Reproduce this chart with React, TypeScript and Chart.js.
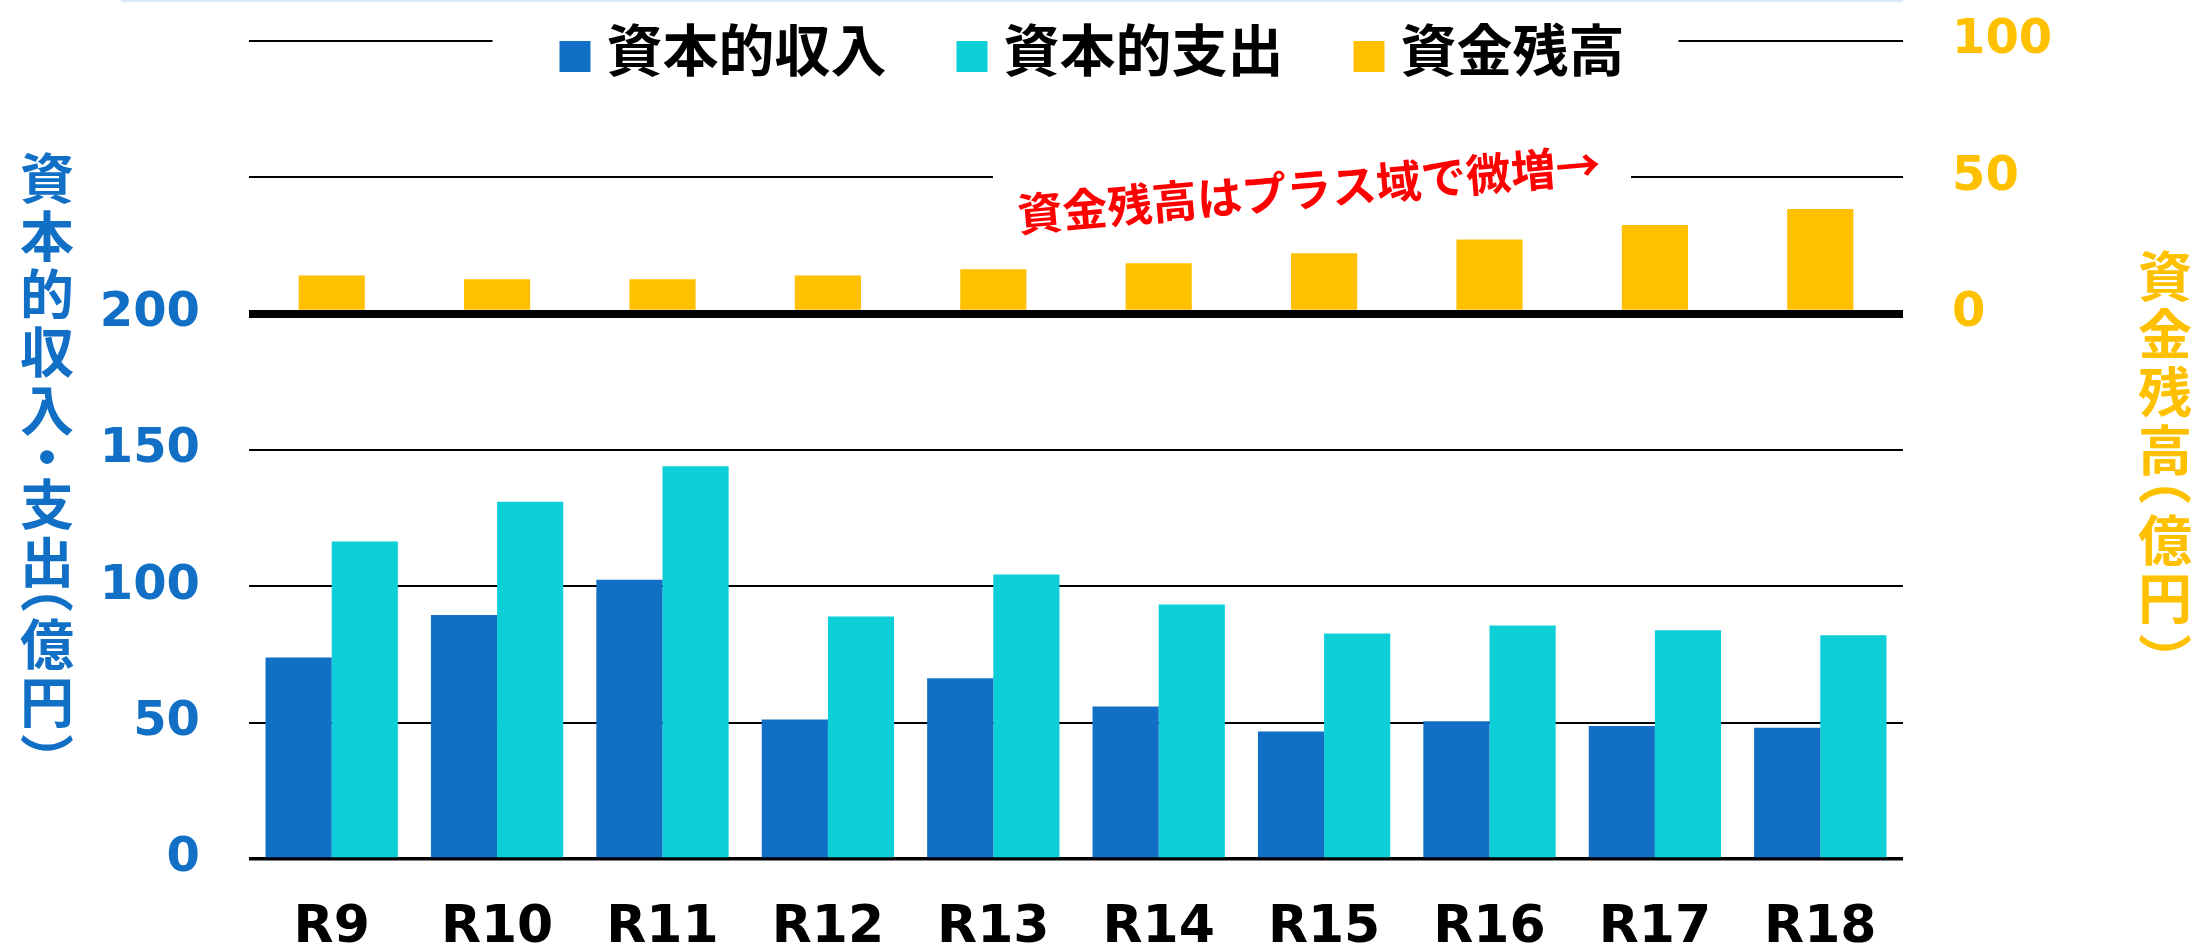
import React, { useEffect, useRef } from 'react';
import { Chart, registerables } from 'chart.js';

Chart.register(...registerables);

const categories = ['R9', 'R10', 'R11', 'R12', 'R13', 'R14', 'R15', 'R16', 'R17', 'R18'];
const capitalIncome = [73.9, 89.5, 102.4, 51.2, 66.3, 55.9, 46.8, 50.5, 48.8, 48.1];
const capitalExpenditure = [116.4, 131.0, 144.0, 88.9, 104.3, 93.3, 82.7, 85.6, 83.9, 82.1];
const fundBalance = [14.0, 12.6, 12.6, 14.0, 16.3, 18.5, 22.2, 27.2, 32.5, 38.4];
const leftTickMax = 200;
const rightTickMin = 0;
const seriesNames = ['資本的収入', '資本的支出', '資金残高'];
const seriesColors = ['#1170C6', '#0CCFD8', '#FFC000'];
const leftTitle = ['資', '本', '的', '収', '入', '・', '支', '出', '（', '億', '円', '）'];
const rightTitle = ['資', '金', '残', '高', '（', '億', '円', '）'];
const annotationText = '資金残高はプラス域で微増→';

const CJK = '"Noto Sans CJK JP", "Noto Sans CJK SC", sans-serif';
const NUM = '"DejaVu Sans", sans-serif';

function drawVertical(ctx: CanvasRenderingContext2D, chars: string[], x: number, firstCenter: number, color: string, parenHalf: number) {
  ctx.save();
  ctx.fillStyle = color;
  ctx.font = `bold 54px ${CJK}`;
  const isParen = (c: string) => c === '（' || c === '）';
  const half = (c: string) => (isParen(c) ? parenHalf : c === '・' ? 18 : 29);
  let y = firstCenter;
  chars.forEach((c, i) => {
    if (i > 0) y += half(chars[i - 1]) + half(c);
    ctx.save();
    ctx.textAlign = 'left';
    ctx.textBaseline = 'alphabetic';
    const m = ctx.measureText(c);
    const gx = (m.actualBoundingBoxRight - m.actualBoundingBoxLeft) / 2;
    const gy = (m.actualBoundingBoxDescent - m.actualBoundingBoxAscent) / 2;
    ctx.translate(x, y);
    if (isParen(c)) ctx.rotate(Math.PI / 2);
    if (isParen(c) || c === '・') {
      ctx.fillText(c, -gx, -gy);
    } else {
      ctx.textAlign = 'center';
      ctx.textBaseline = 'middle';
      ctx.fillText(c, 0, 0);
    }
    ctx.restore();
  });
  ctx.restore();
}

const overlayPlugin = {
  id: 'overlay',
  afterDraw(chart: any) {
    const ctx: CanvasRenderingContext2D = chart.ctx;
    const ca = chart.chartArea;
    const yS = chart.scales.y;
    ctx.save();

    // faint line at the very top
    ctx.fillStyle = '#DCE9F6';
    ctx.fillRect(121, 0, ca.right - 121, 2);

    // legend
    const y300 = yS.getPixelForValue(300);
    ctx.font = `bold 56px ${CJK}`;
    const box = 31;
    const gapBoxText = 16;
    const gapItems = 70;
    const widths = seriesNames.map((n) => ctx.measureText(n).width);
    const total = widths.reduce((a, b) => a + b, 0) + seriesNames.length * (box + gapBoxText) + gapItems * (seriesNames.length - 1);
    const cx = (ca.left + ca.right) / 2 + 16;
    let x = cx - total / 2;
    const startX = x;
    const endX = x + total;
    ctx.fillStyle = '#FFFFFF';
    ctx.fillRect(startX - 67, y300 - 8, endX + 54 - (startX - 67), 16);
    ctx.textBaseline = 'middle';
    ctx.textAlign = 'left';
    seriesNames.forEach((n, i) => {
      ctx.fillStyle = seriesColors[i];
      ctx.fillRect(x, y300, box, box);
      x += box + gapBoxText;
      ctx.fillStyle = '#000000';
      ctx.fillText(n, x, y300 + 9);
      x += widths[i] + gapItems;
    });

    // annotation with gap in 250 gridline
    const y250 = yS.getPixelForValue(250);
    ctx.fillStyle = '#FFFFFF';
    ctx.fillRect(ca.left + 744, y250 - 8, 638, 16);
    ctx.save();
    ctx.translate(ca.left + 1060, y250 + 12);
    ctx.rotate(-5 * Math.PI / 180);
    ctx.fillStyle = '#FF0000';
    ctx.font = `bold 45px ${CJK}`;
    ctx.textAlign = 'center';
    ctx.textBaseline = 'middle';
    ctx.fillText(annotationText, 0, 0);
    ctx.restore();

    // vertical axis titles
    drawVertical(ctx, leftTitle, 47, 178, '#1170C6', 12);
    drawVertical(ctx, rightTitle, 2165, 276, '#FFC000', 16);

    ctx.restore();
  },
};

const noPad = (s: any) => {
  s.paddingTop = 0;
  s.paddingBottom = 0;
};

export default function App() {
  const canvasRef = useRef<HTMLCanvasElement | null>(null);

  useEffect(() => {
    document.body.style.margin = '0';
    const canvas = canvasRef.current;
    if (!canvas) return;
    const chart = new Chart(canvas, {
      type: 'bar',
      data: {
        labels: categories,
        datasets: [
          {
            label: seriesNames[0],
            data: capitalIncome,
            backgroundColor: seriesColors[0],
            yAxisID: 'y',
            categoryPercentage: 0.8,
            barPercentage: 1.0,
            order: 2,
          },
          {
            label: seriesNames[1],
            data: capitalExpenditure,
            backgroundColor: seriesColors[1],
            yAxisID: 'y',
            categoryPercentage: 0.8,
            barPercentage: 1.0,
            order: 2,
          },
          {
            label: seriesNames[2],
            data: fundBalance,
            backgroundColor: seriesColors[2],
            yAxisID: 'y2',
            grouped: false,
            categoryPercentage: 0.8,
            barPercentage: 0.5,
            order: 1,
          } as any,
        ],
      },
      options: {
        responsive: false,
        devicePixelRatio: 1,
        animation: false,
        layout: { padding: { top: 41, left: 0, right: 0, bottom: 0 } },
        plugins: {
          legend: { display: false },
          title: { display: false },
          tooltip: { enabled: false },
        },
        scales: {
          x: {
            grid: { display: false, drawTicks: false },
            border: { display: false },
            ticks: {
              color: '#000000',
              font: { family: NUM, size: 52, weight: 'bold' },
              padding: 38,
              maxRotation: 0,
              autoSkip: false,
            },
            afterFit: (s: any) => {
              s.height = 89;
              s.paddingLeft = 0;
              s.paddingRight = 0;
            },
          },
          y: {
            position: 'left',
            min: 0,
            max: 300,
            border: { display: false },
            grid: {
              drawTicks: false,
              color: '#000000',
              lineWidth: (c: any) => (c.tick && c.tick.value === 0 ? 3.5 : 2),
            },
            ticks: {
              stepSize: 50,
              padding: 49,
              color: '#1170C6',
              font: { family: NUM, size: 48, weight: 'bold' },
              callback: (v: any) => (Number(v) <= leftTickMax ? String(v) : ''),
            },
            afterFit: (s: any) => {
              s.width = 249;
              noPad(s);
            },
          },
          y2: {
            position: 'right',
            min: -200,
            max: 100,
            z: 1,
            border: { display: false },
            grid: {
              drawTicks: false,
              color: (c: any) => (c.tick && c.tick.value === 0 ? '#000000' : 'rgba(0,0,0,0)'),
              lineWidth: (c: any) => (c.tick && c.tick.value === 0 ? 8 : 1),
            },
            ticks: {
              stepSize: 50,
              padding: 49,
              color: '#FFC000',
              font: { family: NUM, size: 48, weight: 'bold' },
              callback: (v: any) => (Number(v) >= rightTickMin ? String(v) : ''),
            },
            afterFit: (s: any) => {
              s.width = 291;
              noPad(s);
            },
          },
        },
      } as any,
      plugins: [overlayPlugin],
    });
    return () => chart.destroy();
  }, []);

  return (
    <div style={{ width: 2194, height: 948, background: '#FFFFFF' }}>
      <canvas ref={canvasRef} width={2194} height={948} style={{ display: 'block' }} />
    </div>
  );
}
